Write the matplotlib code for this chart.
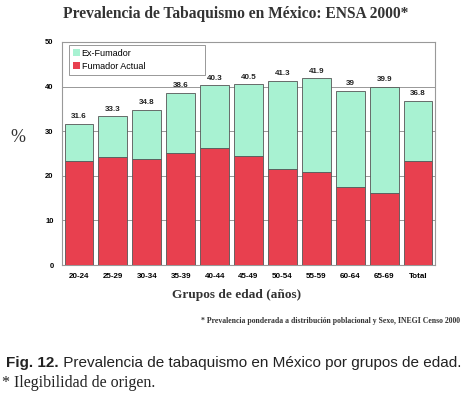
import matplotlib
matplotlib.use("Agg")
import matplotlib.pyplot as plt
from matplotlib.patches import Patch

categories = ["20-24", "25-29", "30-34", "35-39", "40-44", "45-49", "50-54", "55-59", "60-64", "65-69", "Total"]
totals = [31.6, 33.3, 34.8, 38.6, 40.3, 40.5, 41.3, 41.9, 39, 39.9, 36.8]
fumador_actual = [23.3, 24.2, 23.8, 25.1, 26.2, 24.4, 21.5, 20.9, 17.5, 16.1, 23.3]
total_labels = ["31.6", "33.3", "34.8", "38.6", "40.3", "40.5", "41.3", "41.9", "39", "39.9", "36.8"]
yticks = [0, 10, 20, 30, 40, 50]

ex_fumador = [t - f for t, f in zip(totals, fumador_actual)]

RED = "#E8404F"
GREEN = "#A8F2D2"
EDGE = "#555555"

fig = plt.figure(figsize=(4.66, 3.99), dpi=100)
ax = fig.add_axes([62/466, 1 - 265/399, 373/466, 223/399])

x = list(range(len(categories)))
ax.bar(x, fumador_actual, width=0.85, color=RED, edgecolor=EDGE, linewidth=0.6, zorder=3)
ax.bar(x, ex_fumador, bottom=fumador_actual, width=0.85, color=GREEN, edgecolor=EDGE, linewidth=0.6, zorder=3)

for xi, t, lab in zip(x, totals, total_labels):
    ax.text(xi, t + 0.8, lab, ha="center", va="bottom", fontsize=5.8, fontweight="bold",
            family="Liberation Sans", color="#222222")

ax.set_xlim(-0.5, len(categories) - 0.5)
ax.set_ylim(0, 50)
ax.set_yticks(yticks)
ax.set_yticklabels([str(v) for v in yticks], fontsize=5.5, fontweight="bold", family="Liberation Sans")
ax.set_xticks(x)
ax.set_xticklabels(categories, fontsize=5.8, fontweight="bold", family="Liberation Sans")
ax.tick_params(axis="both", length=0, pad=6)
ax.yaxis.grid(True, color="#888888", linewidth=0.6, zorder=0)
ax.set_axisbelow(True)
for s in ax.spines.values():
    s.set_color("#999999")
    s.set_linewidth(0.8)

handles = [Patch(facecolor=GREEN, edgecolor="none"), Patch(facecolor=RED, edgecolor="none")]
leg = ax.legend(handles, ["Ex-Fumador", "Fumador Actual"], loc="upper left",
                bbox_to_anchor=(0.019, 0.987, 0.365, 0.0), mode="expand",
                prop={"family": "Liberation Sans", "size": 6.5},
                handlelength=0.8, handleheight=0.8, handletextpad=0.2,
                borderpad=0.4, labelspacing=0.5, fancybox=False, framealpha=1,
                edgecolor="#888888", borderaxespad=0)
leg.get_frame().set_linewidth(0.6)
leg.set_zorder(5)

fig.text(236/466, 1 - 14/399, "Prevalencia de Tabaquismo en México: ENSA 2000*", ha="center", va="center",
         fontsize=11.2, fontweight="bold", family="Liberation Serif", color="#333333")
fig.text(18/466, 1 - 138/399, "%", ha="center", va="center", fontsize=13,
         family="Liberation Serif", color="#333333")
fig.text(237/466, 1 - 295/399, "Grupos de edad (años)", ha="center", va="center",
         fontsize=9.6, fontweight="bold", family="Liberation Serif", color="#333333")
fig.text(460/466, 1 - 321/399, "* Prevalencia ponderada a distribución poblacional y Sexo, INEGI Censo 2000",
         ha="right", va="center", fontsize=5.6, fontweight="bold", family="Liberation Serif", color="#333333")

t1 = fig.text(6/466, 1 - 367/399, "Fig. 12.", ha="left", va="baseline", fontsize=11,
              fontweight="bold", family="Liberation Sans", color="#222222")
fig.canvas.draw()
bb = t1.get_window_extent()
fig.text(bb.x1 / fig.bbox.width, 1 - 367/399, " Prevalencia de tabaquismo en México por grupos de edad.",
         ha="left", va="baseline", fontsize=11, family="Liberation Sans", color="#222222")
fig.text(2/466, 1 - 387/399, "* Ilegibilidad de origen.", ha="left", va="baseline", fontsize=11.5,
         family="Liberation Serif", color="#222222")

fig.savefig("out.png", dpi=100, facecolor="white")
